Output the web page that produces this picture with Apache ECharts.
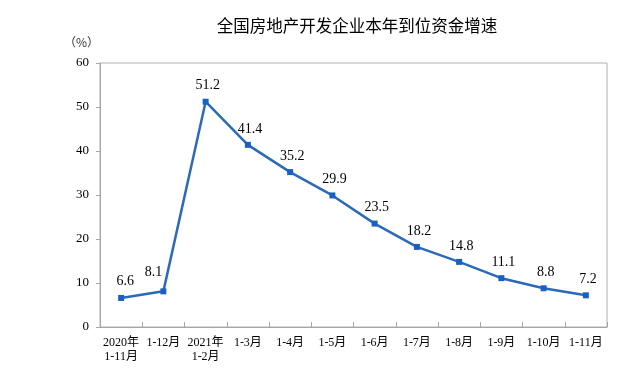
<!DOCTYPE html>
<html>
<head>
<meta charset="utf-8">
<script src="https://cdn.jsdelivr.net/npm/echarts@6/dist/echarts.min.js"></script>
<style>html,body{margin:0;padding:0;background:#fff}#c{width:641px;height:374px}</style>
</head>
<body>
<div id="c"></div>
<script>
const title = '全国房地产开发企业本年到位资金增速';
const categories = ['2020年\n1-11月', '1-12月', '2021年\n1-2月', '1-3月', '1-4月', '1-5月', '1-6月', '1-7月', '1-8月', '1-9月', '1-10月', '1-11月'];
const values = [6.6, 8.1, 51.2, 41.4, 35.2, 29.9, 23.5, 18.2, 14.8, 11.1, 8.8, 7.2];
const yTicks = [0, 10, 20, 30, 40, 50, 60];

const serif = '"Liberation Serif", "Noto Sans CJK SC", serif';
const chart = echarts.init(document.getElementById('c'), null, {renderer: 'canvas'});
const labelOffsets = {0: [4, -1], 1: [-10, -3]};
chart.setOption({
  animation: false,
  title: {
    text: title, left: 352, top: 12, textAlign: 'center',
    textStyle: {fontFamily: '"Noto Sans CJK SC"', fontSize: 16.5, fontWeight: 'normal', color: '#000'}
  },
  graphic: [{
    type: 'text', left: 64, top: 36,
    style: {text: '（%）', font: '12px "Noto Sans CJK SC"', fill: '#333', textAlign: 'left'}
  }, {
    type: 'rect', shape: {x: 100, y: 63, width: 507, height: 264},
    style: {fill: 'none', stroke: '#b0b0b0', lineWidth: 1}, z: -1
  }],
  grid: {left: 100, right: 34, top: 63, bottom: 47},
  xAxis: {
    type: 'category', data: categories, boundaryGap: true,
    axisLine: {lineStyle: {color: '#a6a6a6', width: 1}},
    axisTick: {show: true, inside: true, length: 5, alignWithLabel: false, lineStyle: {color: '#a6a6a6'}},
    axisLabel: {interval: 0, margin: 9, fontFamily: serif, fontSize: 12, color: '#000', lineHeight: 14}
  },
  yAxis: {
    type: 'value', min: yTicks[0], max: yTicks[yTicks.length - 1], interval: 10,
    axisLine: {show: true, lineStyle: {color: '#a6a6a6', width: 1}},
    axisTick: {show: true, length: 4, lineStyle: {color: '#a6a6a6'}},
    splitLine: {show: false},
    axisLabel: {margin: 11, fontFamily: serif, fontSize: 13, color: '#000'}
  },
  series: [{
    type: 'line',
    data: values.map((v, i) => labelOffsets[i] ? {value: v, label: {offset: labelOffsets[i]}} : v),
    symbol: 'rect', symbolSize: 6,
    lineStyle: {color: '#2a6ab8', width: 2.5},
    itemStyle: {color: '#1a60c0'},
    label: {show: true, position: 'top', distance: 6, offset: [2, 0], fontFamily: serif, fontSize: 14, color: '#000'}
  }]
});
</script>
</body>
</html>
